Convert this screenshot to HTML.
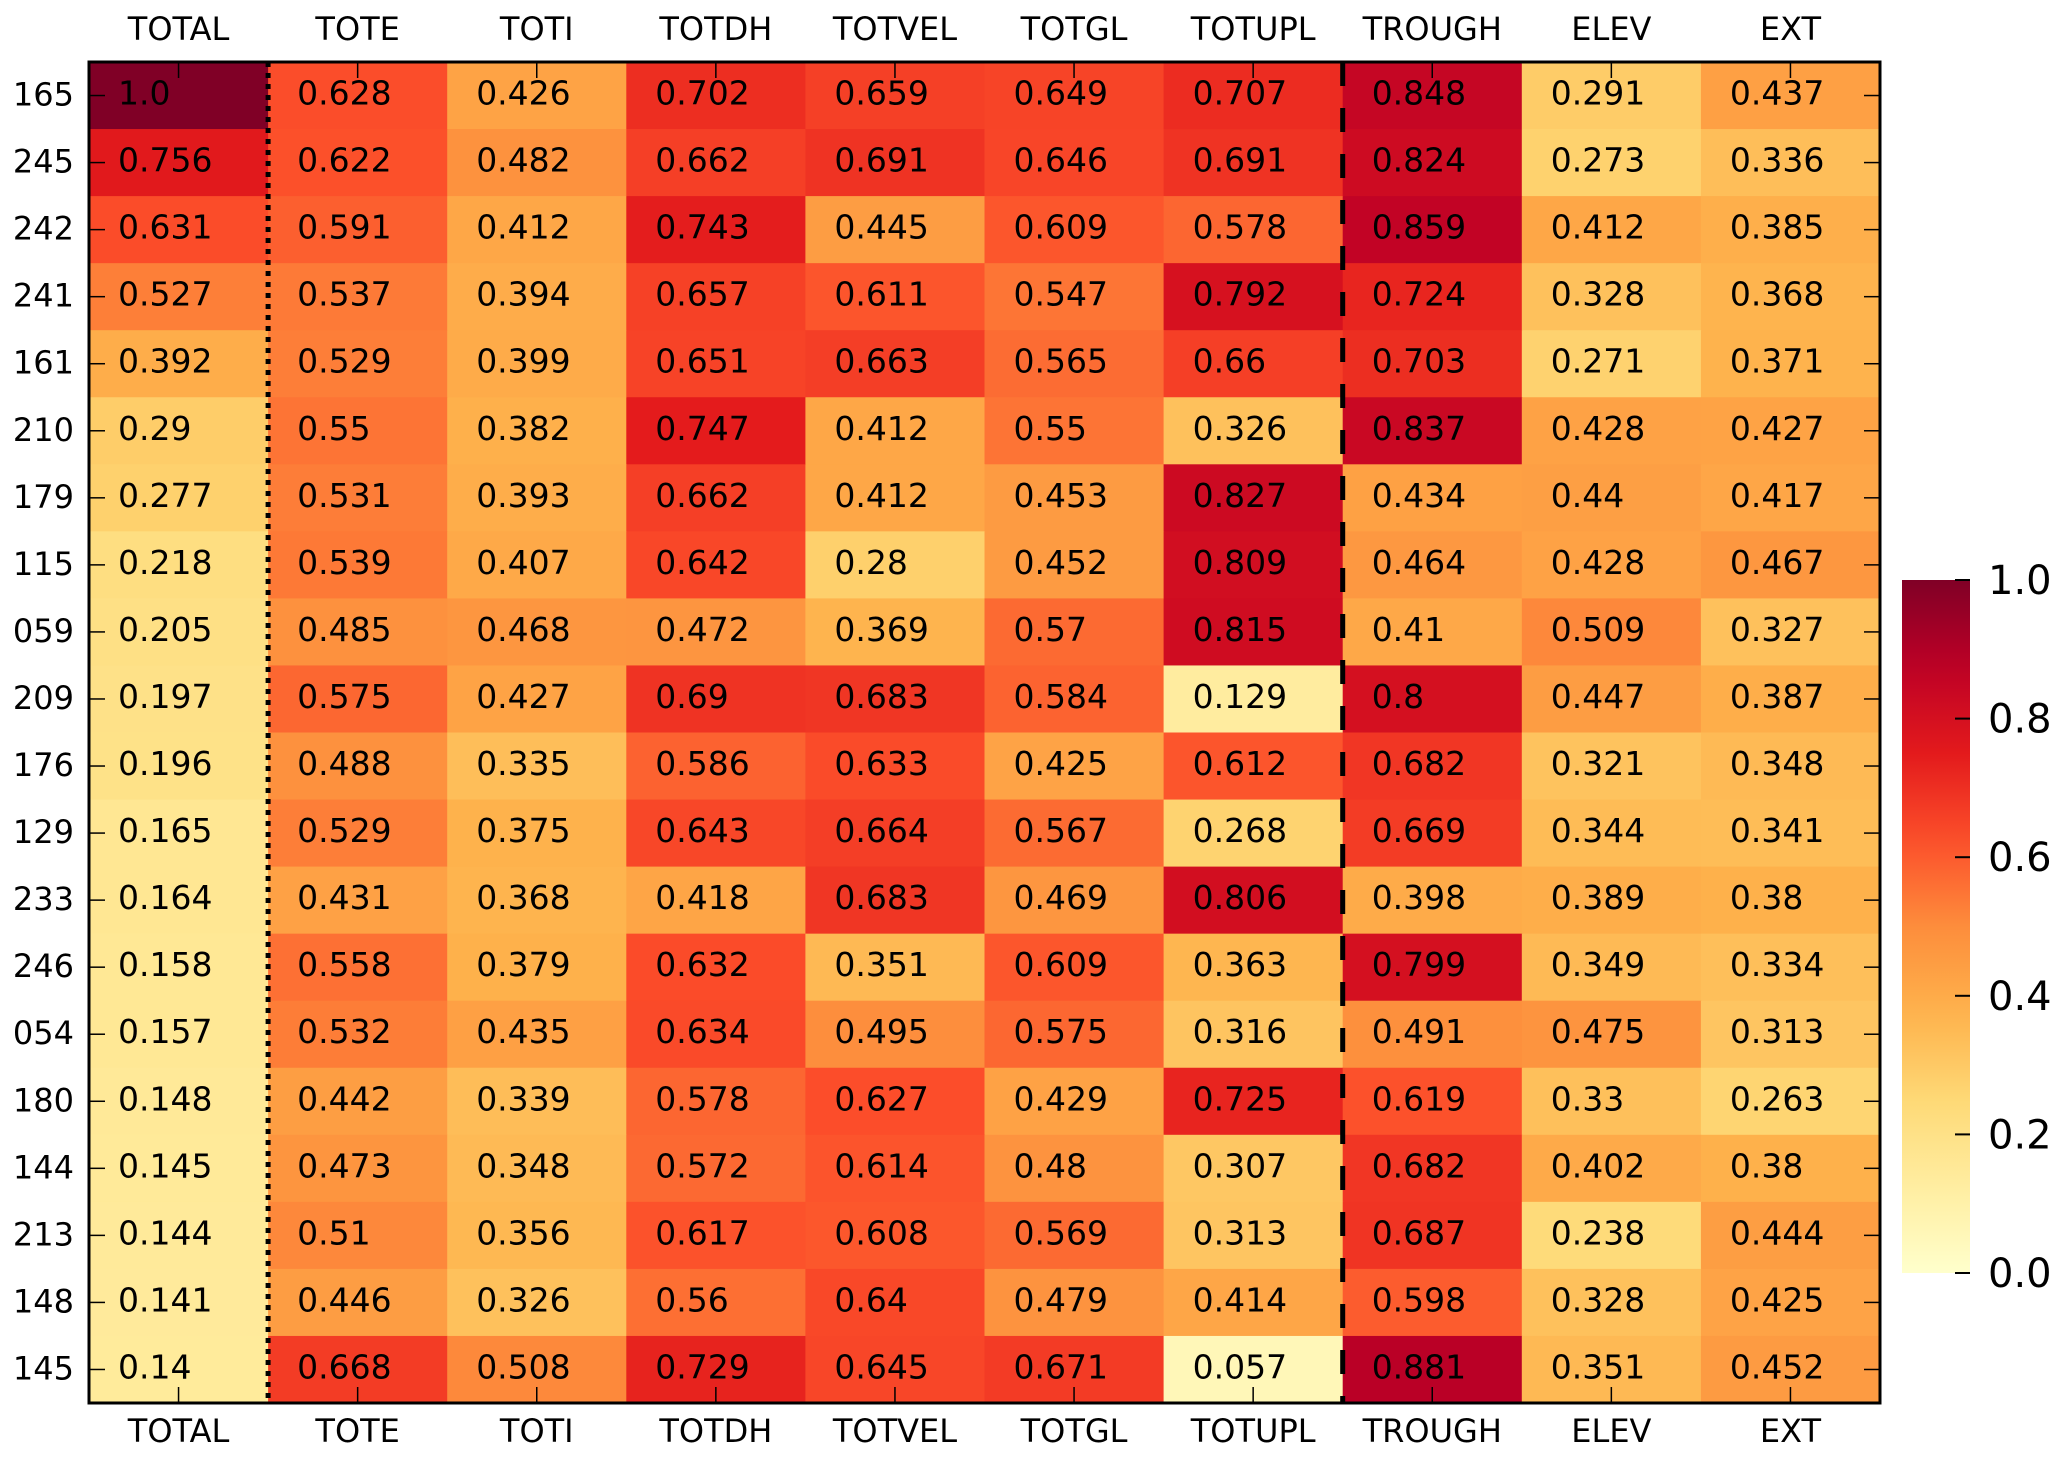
<!DOCTYPE html>
<html><head><meta charset="utf-8"><style>
html,body{margin:0;padding:0;background:#fff;}
svg{display:block;font-family:"DejaVu Sans","Liberation Sans",sans-serif;}
</style></head><body>
<svg id="chart" width="2067" height="1462" xmlns="http://www.w3.org/2000/svg"></svg>
<script>
const columns=["TOTAL","TOTE","TOTI","TOTDH","TOTVEL","TOTGL","TOTUPL","TROUGH","ELEV","EXT"];
const rows=["165","245","242","241","161","210","179","115","059","209","176","129","233","246","054","180","144","213","148","145"];
const values=[
[1.0,0.628,0.426,0.702,0.659,0.649,0.707,0.848,0.291,0.437],
[0.756,0.622,0.482,0.662,0.691,0.646,0.691,0.824,0.273,0.336],
[0.631,0.591,0.412,0.743,0.445,0.609,0.578,0.859,0.412,0.385],
[0.527,0.537,0.394,0.657,0.611,0.547,0.792,0.724,0.328,0.368],
[0.392,0.529,0.399,0.651,0.663,0.565,0.66,0.703,0.271,0.371],
[0.29,0.55,0.382,0.747,0.412,0.55,0.326,0.837,0.428,0.427],
[0.277,0.531,0.393,0.662,0.412,0.453,0.827,0.434,0.44,0.417],
[0.218,0.539,0.407,0.642,0.28,0.452,0.809,0.464,0.428,0.467],
[0.205,0.485,0.468,0.472,0.369,0.57,0.815,0.41,0.509,0.327],
[0.197,0.575,0.427,0.69,0.683,0.584,0.129,0.8,0.447,0.387],
[0.196,0.488,0.335,0.586,0.633,0.425,0.612,0.682,0.321,0.348],
[0.165,0.529,0.375,0.643,0.664,0.567,0.268,0.669,0.344,0.341],
[0.164,0.431,0.368,0.418,0.683,0.469,0.806,0.398,0.389,0.38],
[0.158,0.558,0.379,0.632,0.351,0.609,0.363,0.799,0.349,0.334],
[0.157,0.532,0.435,0.634,0.495,0.575,0.316,0.491,0.475,0.313],
[0.148,0.442,0.339,0.578,0.627,0.429,0.725,0.619,0.33,0.263],
[0.145,0.473,0.348,0.572,0.614,0.48,0.307,0.682,0.402,0.38],
[0.144,0.51,0.356,0.617,0.608,0.569,0.313,0.687,0.238,0.444],
[0.141,0.446,0.326,0.56,0.64,0.479,0.414,0.598,0.328,0.425],
[0.14,0.668,0.508,0.729,0.645,0.671,0.057,0.881,0.351,0.452]];
const cbTicks=[0.0,0.2,0.4,0.6,0.8,1.0];

const NS="http://www.w3.org/2000/svg";
const svg=document.getElementById('chart');
const L=89,T=62,R=1880,B=1403;
const cw=(R-L)/columns.length, ch=(B-T)/rows.length;
const xs=i=>L+i*cw, ys=j=>T+j*ch;
const stops=["#ffffcc","#ffeda0","#fed976","#feb24c","#fd8d3c","#fc4e2a","#e31a1c","#bd0026","#800026"].map(h=>[1,3,5].map(k=>parseInt(h.substr(k,2),16)));
function cmap(v){v=Math.max(0,Math.min(1,v));const p=v*8,i=Math.min(7,Math.floor(p)),f=p-i;const c=stops[i].map((a,k)=>Math.round(a+(stops[i+1][k]-a)*f));return `rgb(${c})`;}
function fmt(v){const s=String(v);return s.indexOf('.')<0?s+'.0':s;}
function el(t,a,parent){const e=document.createElementNS(NS,t);for(const k in a)e.setAttribute(k,a[k]);(parent||svg).appendChild(e);return e;}

const cells=el('g',{});


for(let j=0;j<rows.length;j++)for(let i=0;i<columns.length;i++){
  const r=el('rect',{x:xs(i),y:ys(j),width:cw+0.6,height:ch+0.6,fill:cmap(values[j][i])},cells);
  
  
  const t=el('text',{x:xs(i)+29,y:ys(j)+ch/2+9,'font-size':33,fill:'#000'},cells);
  t.textContent=fmt(values[j][i]);
  
  
}
const d1=el('line',{x1:xs(1),y1:T,x2:xs(1),y2:B,stroke:'#000','stroke-width':5,'stroke-dasharray':'5,6'});


const d2=el('line',{x1:xs(7),y1:T,x2:xs(7),y2:B,stroke:'#000','stroke-width':5,'stroke-dasharray':'24,22'});


const fr=el('rect',{x:L,y:T,width:R-L,height:B-T,fill:'none',stroke:'#000','stroke-width':3});


for(let i=0;i<columns.length;i++){
  const cx=xs(i)+cw/2;
  el('line',{x1:cx,y1:T,x2:cx,y2:T+16,stroke:'#000','stroke-width':1.5});
  el('line',{x1:cx,y1:B,x2:cx,y2:B-16,stroke:'#000','stroke-width':1.5});
  const a=el('text',{x:cx,y:40,'font-size':32,'text-anchor':'middle'});a.textContent=columns[i];
  
  
  const b=el('text',{x:cx,y:1442,'font-size':32,'text-anchor':'middle'});b.textContent=columns[i];
  
  
}
for(let j=0;j<rows.length;j++){
  const cy=ys(j)+ch/2;
  el('line',{x1:L,y1:cy,x2:L+16,y2:cy,stroke:'#000','stroke-width':1.5});
  el('line',{x1:R,y1:cy,x2:R-16,y2:cy,stroke:'#000','stroke-width':1.5});
  const t=el('text',{x:74,y:cy+10,'font-size':32,'text-anchor':'end'});t.textContent=rows[j];
  
  
}
const CL=1902,CR=1970,CT=580,CB=1273;
const defs=el('defs',{});
const g=el('linearGradient',{id:'cbg',x1:0,y1:1,x2:0,y2:0},defs);
for(let k=0;k<=20;k++)el('stop',{offset:k/20,'stop-color':cmap(k/20)},g);
const cb=el('rect',{x:CL,y:CT,width:CR-CL,height:CB-CT,fill:'url(#cbg)'});


const cy=v=>CB-v*(CB-CT);
cbTicks.forEach(v=>{
  el('line',{x1:CR-15,y1:cy(v),x2:CR,y2:cy(v),stroke:'#000','stroke-width':2});
  const t=el('text',{x:1988,y:cy(v)+14,'font-size':40});t.textContent=v.toFixed(1);
  
  
});
</script>
</body></html>
